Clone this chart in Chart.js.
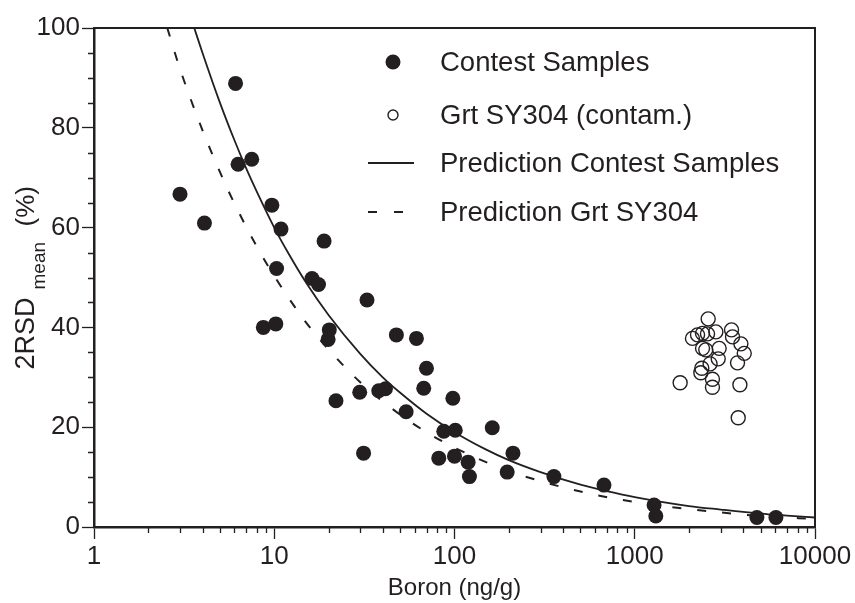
<!DOCTYPE html>
<html>
<head>
<meta charset="utf-8">
<title>2RSD vs Boron</title>
<script src="https://cdn.jsdelivr.net/npm/chart.js@4/dist/chart.umd.min.js"></script>
<style>
  body { margin: 0; background: #fff; }
  #wrap { width: 855px; height: 603px; }
</style>
</head>
<body>
<div id="wrap"><canvas id="myChart" width="855" height="603"></canvas></div>
<script>
// ---------------- data ----------------
let contestBoron = [3.0, 4.1, 6.1, 6.3, 7.5, 8.7, 9.7, 10.2, 10.3, 10.9, 16.2, 17.6, 18.9, 20.2, 19.9,
    22.0, 29.8, 31.3, 32.7, 38.0, 41.4, 47.6, 53.9, 61.5, 67.5, 69.9, 81.8, 87.2, 97.9, 100,
    101, 119, 121, 162, 196, 211, 356, 675, 1280, 1309, 4760, 6070]
let contestRSD = [66.7, 60.9, 88.9, 72.7, 73.7, 40.0, 64.5, 40.7, 51.8, 59.7, 49.8, 48.6, 57.3, 39.5, 37.6,
    25.3, 27.0, 14.8, 45.5, 27.3, 27.7, 38.5, 23.1, 37.8, 27.8, 31.8, 13.8, 19.2, 25.8, 14.2,
    19.4, 13.0, 10.1, 19.9, 11.0, 14.8, 10.1, 8.4, 4.4, 2.2, 1.9, 1.9]

let grtBoron = [2555, 2090, 2230, 2377, 2533, 2818, 3443, 3487, 3880, 4050, 3717, 2377,
    2478, 2940, 2904, 2618, 2355, 2326, 2698, 2698, 1786, 3831, 3750]
let grtRSD = [41.7, 37.8, 38.5, 38.8, 38.7, 39.1, 39.5, 38.1, 36.7, 34.8, 32.9, 35.8,
    35.5, 35.8, 33.7, 32.7, 31.8, 30.9, 29.6, 28.0, 28.9, 28.5, 21.9]

// prediction curves, points
let predContestBoron = [3.6, 4, 5, 6, 7, 8, 10, 12, 15, 20, 30, 40, 50, 70, 100, 150, 200, 300, 500, 700, 1000, 2000, 3000, 5000, 7000, 10000]
let predContestRSD = [100, 95, 85, 77.6, 71.8, 67.2, 60, 54.8, 49, 42.5, 34.7, 30, 26.9, 22.7, 19, 15.5, 13.4, 11, 8.5, 7.2, 6, 4.2, 3.5, 2.7, 2.3, 1.9]
let predGrtBoron = [2.55, 3, 4, 5, 6, 8, 10, 15, 20, 30, 50, 70, 100, 200, 300, 500, 1000, 2000, 5000, 10000]
let predGrtRSD = [100, 91.8, 79.5, 71.1, 64.9, 56.2, 50.3, 41, 35.6, 29, 22.5, 19, 15.9, 11.2, 9.2, 7.1, 5.0, 3.6, 2.2, 1.6]

let xTickLabels = [1, 10, 100, 1000, 10000]
let yTickLabels = [0, 20, 40, 60, 80, 100]
let yMinorStep = 5

let legendNames = ["Contest Samples", "Grt SY304 (contam.)", "Prediction Contest Samples", "Prediction Grt SY304"]

// ---------------- helpers ----------------
const INK = '#231f20'
const FONT = '"Liberation Sans", Arial, Helvetica, sans-serif'

function pairs(xs, ys) {
    return xs.map((x, i) => ({ x: x, y: ys[i] }))
}

// minor ticks, box and legend, all placed through the chart's scales
const extras = {
    id: 'extras',
    afterDraw(chart) {
        const ctx = chart.ctx
        const a = chart.chartArea
        const xs = chart.scales.x
        const ys = chart.scales.y
        ctx.save()
        ctx.strokeStyle = INK
        // top and right frame
        ctx.lineWidth = 2
        ctx.beginPath()
        ctx.moveTo(a.left, a.top)
        ctx.lineTo(a.right, a.top)
        ctx.lineTo(a.right, a.bottom)
        ctx.stroke()

        // minor ticks
        ctx.lineWidth = 1.3
        ctx.beginPath()
        for (let d = 0; d < xTickLabels.length - 1; d++) {
            for (let m = 2; m <= 9; m++) {
                let px = Math.round(xs.getPixelForValue(xTickLabels[d] * m)) + 0.5
                ctx.moveTo(px, a.bottom)
                ctx.lineTo(px, a.bottom + 6)
            }
        }
        for (let v = 0; v <= 100; v += yMinorStep) {
            if (yTickLabels.includes(v)) continue
            let py = Math.round(ys.getPixelForValue(v)) + 0.5
            ctx.moveTo(a.left, py)
            ctx.lineTo(a.left - 6, py)
        }
        ctx.stroke()

        // legend
        const rows = [62, 115, 163, 212]
        const symX = 393
        const textX = 440
        ctx.fillStyle = INK
        ctx.font = '27.5px ' + FONT
        ctx.textBaseline = 'middle'
        ctx.textAlign = 'left'
        legendNames.forEach((name, i) => ctx.fillText(name, textX, rows[i] + 1))

        ctx.beginPath()
        ctx.arc(symX, rows[0], 7.5, 0, Math.PI * 2)
        ctx.fill()
        ctx.lineWidth = 1.4
        ctx.beginPath()
        ctx.arc(symX, rows[1], 5, 0, Math.PI * 2)
        ctx.stroke()
        ctx.lineWidth = 2
        ctx.beginPath()
        ctx.moveTo(368, rows[2])
        ctx.lineTo(414, rows[2])
        ctx.moveTo(368, rows[3])
        ctx.lineTo(377, rows[3])
        ctx.moveTo(394, rows[3])
        ctx.lineTo(403, rows[3])
        ctx.stroke()

        // y axis title with subscript
        const midY = (a.top + a.bottom) / 2
        ctx.translate(34, midY + 92)
        ctx.rotate(-Math.PI / 2)
        ctx.textBaseline = 'alphabetic'
        ctx.font = '27px ' + FONT
        ctx.fillText('2RSD', 0, 0)
        ctx.font = '19px ' + FONT
        ctx.fillText('mean', 80, 11)
        ctx.font = '26px ' + FONT
        ctx.fillText('(%)', 143, 0)
        ctx.restore()
    }
}

const ctx = document.getElementById('myChart').getContext('2d')
const myChart = new Chart(ctx, {
    type: 'scatter',
    data: {
        datasets: [
            {
                label: legendNames[0],
                data: pairs(contestBoron, contestRSD),
                pointRadius: 7.5,
                pointHoverRadius: 7.5,
                pointBackgroundColor: INK,
                pointBorderColor: INK,
                pointBorderWidth: 0,
                showLine: false,
                order: 1
            },
            {
                label: legendNames[1],
                data: pairs(grtBoron, grtRSD),
                pointRadius: 7,
                pointHoverRadius: 7,
                pointBackgroundColor: 'rgba(0,0,0,0)',
                pointBorderColor: INK,
                pointBorderWidth: 1.4,
                showLine: false,
                order: 2
            },
            {
                label: legendNames[2],
                data: pairs(predContestBoron, predContestRSD),
                showLine: true,
                pointRadius: 0,
                borderColor: INK,
                borderWidth: 1.8,
                cubicInterpolationMode: 'monotone',
                order: 3
            },
            {
                label: legendNames[3],
                data: pairs(predGrtBoron, predGrtRSD),
                showLine: true,
                pointRadius: 0,
                borderColor: INK,
                borderWidth: 2,
                borderDash: [9, 16],
                cubicInterpolationMode: 'monotone',
                order: 4
            }
        ]
    },
    options: {
        responsive: false,
        animation: false,
        devicePixelRatio: 1,
        layout: { padding: { top: 28, right: 40, left: 0, bottom: 0 } },
        plugins: {
            legend: { display: false },
            tooltip: { enabled: false }
        },
        scales: {
            x: {
                type: 'logarithmic',
                min: 1,
                max: 10000,
                afterBuildTicks: scale => { scale.ticks = xTickLabels.map(v => ({ value: v })) },
                afterFit: scale => { scale.height = 76 },
                border: { display: true, color: INK, width: 2.5 },
                grid: { drawOnChartArea: false, tickLength: 12, tickWidth: 1.3, tickColor: INK },
                ticks: {
                    autoSkip: false,
                    maxRotation: 0,
                    padding: 2,
                    color: INK,
                    font: { family: FONT, size: 26 },
                    callback: v => String(v)
                },
                title: {
                    display: true,
                    text: 'Boron (ng/g)',
                    color: INK,
                    font: { family: FONT, size: 24 },
                    padding: { top: 0, bottom: 0 }
                }
            },
            y: {
                min: 0,
                max: 100,
                afterBuildTicks: scale => { scale.ticks = yTickLabels.map(v => ({ value: v })) },
                afterFit: scale => { scale.width = 94 },
                border: { display: true, color: INK, width: 2.5 },
                grid: { drawOnChartArea: false, tickLength: 12, tickWidth: 1.3, tickColor: INK },
                ticks: {
                    padding: 2,
                    color: INK,
                    font: { family: FONT, size: 26 },
                    callback: v => String(v)
                }
            }
        }
    },
    plugins: [extras]
})
</script>
</body>
</html>
